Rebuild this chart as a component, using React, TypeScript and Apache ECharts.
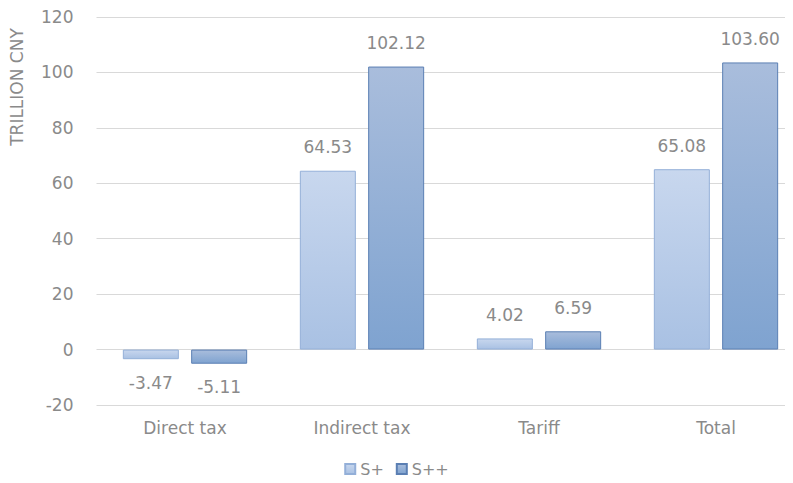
import React, { useEffect, useRef } from "react";
import * as echarts from "echarts";

const categories = ["Direct tax", "Indirect tax", "Tariff", "Total"];
const sPlus = [-3.47, 64.53, 4.02, 65.08];
const sPlusPlus = [-5.11, 102.12, 6.59, 103.6];
const seriesNames = ["S+", "S++"];

const FONT = "'DejaVu Sans', sans-serif";
const WEIGHT = "normal";
const TEXT = "#8a8a8a";

function toData(values: number[]) {
  return values.map((v) => ({
    value: v,
    label: { position: v < 0 ? "bottom" : "top" },
  }));
}

export default function App() {
  const ref = useRef<HTMLDivElement>(null);
  useEffect(() => {
    const chart = echarts.init(ref.current!, null, { renderer: "svg" });
    const labelCfg = {
      show: true,
      color: TEXT,
      fontSize: 17,
      fontFamily: FONT,
      fontWeight: WEIGHT,
      distance: 15,
      formatter: (p: any) => Number(p.value).toFixed(2),
    };
    chart.setOption({
      animation: false,
      backgroundColor: "#ffffff",
      grid: {
        left: 96.5,
        width: 708,
        top: 17,
        bottom: 78,
        containLabel: false,
        outerBoundsMode: "none",
      },
      legend: {
        bottom: 1,
        left: "center",
        itemWidth: 10,
        itemHeight: 10,
        itemGap: 12,
        icon: "rect",
        textStyle: { color: TEXT, fontSize: 16, fontFamily: FONT, fontWeight: WEIGHT },
        data: seriesNames,
      },
      graphic: [
        {
          type: "text",
          x: 17,
          y: 87,
          rotation: Math.PI / 2,
          style: {
            text: "TRILLION CNY",
            fill: TEXT,
            fontSize: 17,
            fontFamily: FONT,
            fontWeight: WEIGHT,
            textAlign: "center",
            textVerticalAlign: "middle",
          },
        },
      ],
      xAxis: {
        type: "category",
        data: categories,
        axisLine: { show: false },
        axisTick: { show: false },
        axisLabel: {
          color: TEXT,
          fontSize: 17,
          fontFamily: FONT,
          fontWeight: WEIGHT,
          margin: 14,
          interval: 0,
        },
      },
      yAxis: {
        type: "value",
        min: -20,
        max: 120,
        interval: 20,
        axisLine: { show: false },
        axisTick: { show: false },
        axisLabel: { color: TEXT, fontSize: 17, fontFamily: FONT, fontWeight: WEIGHT, margin: 23 },
        splitLine: { lineStyle: { color: "#d9d9d9", width: 1 } },
      },
      series: [
        {
          name: seriesNames[0],
          type: "bar",
          data: toData(sPlus),
          barWidth: 56,
          barGap: "22%",
          itemStyle: {
            color: new echarts.graphic.LinearGradient(0, 0, 0, 1, [
              { offset: 0, color: "#c8d7ee" },
              { offset: 1, color: "#a9c1e3" },
            ]),
            borderColor: "#93afd8",
            borderWidth: 1,
          },
          label: labelCfg,
        },
        {
          name: seriesNames[1],
          type: "bar",
          data: toData(sPlusPlus),
          barWidth: 56,
          itemStyle: {
            color: new echarts.graphic.LinearGradient(0, 0, 0, 1, [
              { offset: 0, color: "#a9bddc" },
              { offset: 1, color: "#7fa3d0" },
            ]),
            borderColor: "#5b7fb3",
            borderWidth: 1,
          },
          label: labelCfg,
        },
      ],
    });
    return () => chart.dispose();
  }, []);
  return <div ref={ref} style={{ width: 793, height: 483, margin: -8 }} />;
}
